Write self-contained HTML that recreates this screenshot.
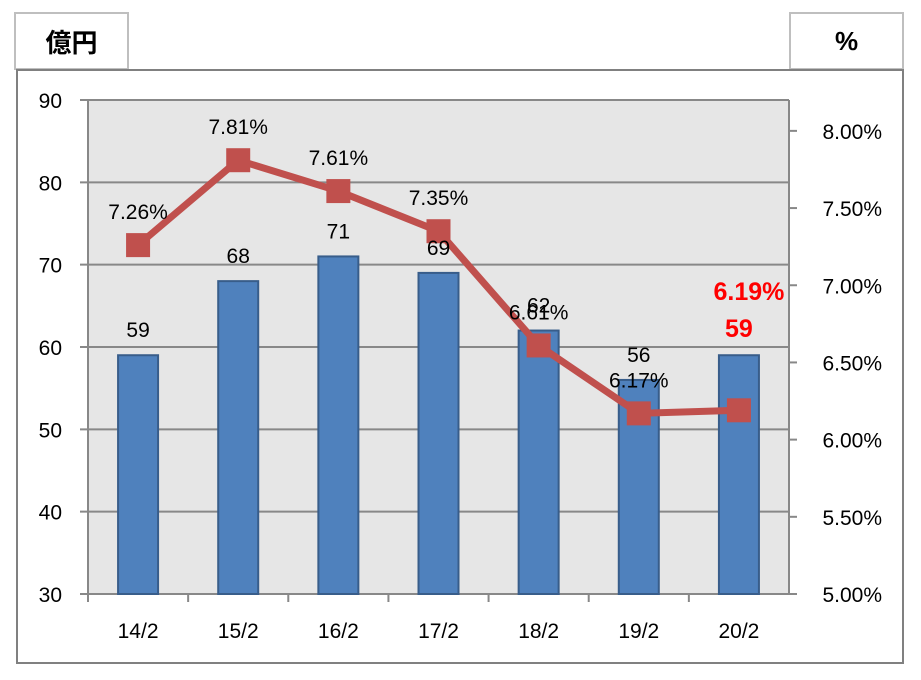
<!DOCTYPE html>
<html><head><meta charset="utf-8"><style>
body{margin:0;background:#fff;width:921px;height:680px;overflow:hidden;font-family:"Liberation Sans","Noto Sans CJK JP",sans-serif}
.box{position:absolute;border:2px solid #bfbfbf;background:#fff;box-sizing:border-box;font-weight:bold;font-size:26px;display:flex;align-items:center;justify-content:center}
</style></head><body>
<div class="box" style="left:14px;top:12px;width:115px;height:58px">億円</div>
<div class="box" style="left:789px;top:12px;width:115px;height:58px">%</div>
<svg id="c" width="921" height="680" style="position:absolute;left:0;top:0"></svg>
<script>
const categories=["14/2","15/2","16/2","17/2","18/2","19/2","20/2"];
const sales=[59,68,71,69,62,56,59];
const rates=[7.26,7.81,7.61,7.35,6.61,6.17,6.19];
const leftTicks=[30,40,50,60,70,80,90];
const rightTicks=[5.0,5.5,6.0,6.5,7.0,7.5,8.0];
const NS="http://www.w3.org/2000/svg",svg=document.getElementById('c');
const X0=88,X1=789,Y0=100,Y1=594;
const yL=v=>Y1-(v-30)/60*(Y1-Y0);
const yR=v=>Y1-(v-5)/3.2*(Y1-Y0);
const step=(X1-X0)/categories.length;
const xC=i=>X0+step*(i+0.5);
function mk(t,a,txt){const e=document.createElementNS(NS,t);for(const k in a)e.setAttribute(k,a[k]);if(txt!==undefined)e.textContent=txt;svg.appendChild(e);return e;}
let e=mk('rect',{x:17,y:70,width:886,height:593,fill:'none',stroke:'#808080','stroke-width':2});

e=mk('rect',{x:X0,y:Y0,width:X1-X0,height:Y1-Y0,fill:'#e6e6e6'});

leftTicks.forEach(v=>{const y=yL(v);
 e=mk('line',{x1:80,x2:X1,y1:y,y2:y,stroke:'#888','stroke-width':2});
 
 e=mk('text',{x:62,y:y+8,'font-size':21,'text-anchor':'end',fill:'#000'},String(v));
 });
rightTicks.forEach(v=>{const y=yR(v);
 e=mk('line',{x1:X1,x2:X1+8,y1:y,y2:y,stroke:'#888','stroke-width':2});
 
 e=mk('text',{x:882,y:y+8,'font-size':21,'text-anchor':'end',fill:'#000'},v.toFixed(2)+'%');
 });
e=mk('line',{x1:X0,x2:X0,y1:Y0,y2:Y1,stroke:'#888','stroke-width':2});

e=mk('line',{x1:X1,x2:X1,y1:Y0,y2:Y1,stroke:'#888','stroke-width':2});

categories.forEach((c,i)=>{
 e=mk('line',{x1:X0+step*i,x2:X0+step*i,y1:Y1,y2:Y1+8,stroke:'#888','stroke-width':2});
 
 e=mk('text',{x:xC(i),y:638,'font-size':21,'text-anchor':'middle'},c);
 
 const y=yL(sales[i]);
 e=mk('rect',{x:xC(i)-20,y:y,width:40,height:Y1-y,fill:'#4f81bd',stroke:'#385d8a','stroke-width':2});
 
});
e=mk('polyline',{points:rates.map((r,i)=>xC(i)+','+yR(r)).join(' '),fill:'none',stroke:'#c0504d','stroke-width':7});

rates.forEach((r,i)=>{
 e=mk('rect',{x:xC(i)-12,y:yR(r)-12,width:24,height:24,fill:'#c0504d'});
 
});
categories.forEach((c,i)=>{
 const last=i===categories.length-1;
 const a=last?{fill:'#ff0000','font-weight':'bold','font-size':25}:{fill:'#000','font-size':21};
 const dx=last?0:0;
 e=mk('text',Object.assign({x:xC(i)+dx,y:yL(sales[i])-18,'text-anchor':'middle'},a),String(sales[i]));
 
 let ly=yR(rates[i])-26;
 if(last) ly=yL(sales[i])-55;
 e=mk('text',Object.assign({x:xC(i)+(last?10:0),y:ly,'text-anchor':'middle'},a),rates[i].toFixed(2)+'%');
 
});
</script>
</body></html>
